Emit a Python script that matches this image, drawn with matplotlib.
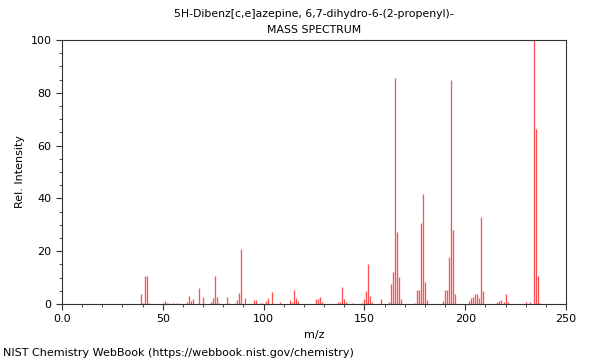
import numpy as np
import matplotlib
matplotlib.use("Agg")
import matplotlib.pyplot as plt
from matplotlib.ticker import MultipleLocator

title = "5H-Dibenz[c,e]azepine, 6,7-dihydro-6-(2-propenyl)-\nMASS SPECTRUM"

# m/z and relative intensity
mz = [39, 40, 41, 42, 43, 50, 51, 52, 53, 55, 57,
      62, 63, 64, 65, 68, 70, 74, 75, 76, 77, 78,
      82, 83, 86, 87, 88, 89, 91, 95, 96, 98, 99, 101, 102, 104, 108,
      113, 114, 115, 116, 117, 126, 127, 128, 129,
      137, 138, 139, 140, 141, 144, 149, 150, 151, 152, 153, 154, 158,
      162, 163, 164, 165, 166, 167, 168,
      175, 176, 177, 178, 179, 180, 181,
      189, 190, 191, 192, 193, 194, 195, 202,
      203, 204, 205, 206, 207, 208, 209,
      216, 217, 218, 219, 220, 221, 230, 232, 234, 235, 236, 237]
intensity = [3.8, 0.5, 10.5, 10.5, 0.5, 0.5, 1.1, 0.4, 0.3, 0.4, 0.4,
             0.6, 3.1, 1.1, 1.9, 6.1, 2.7, 0.6, 2.3, 10.6, 2.8, 0.5,
             2.5, 0.5, 0.5, 1.5, 4.2, 20.8, 2.3, 1.5, 1.5, 0.5, 0.5, 1.1, 2.3, 4.5, 0.8,
             1.5, 0.6, 5.3, 2.3, 1.1, 1.9, 1.9, 2.7, 0.8,
             0.8, 0.8, 6.4, 1.9, 0.8, 0.5, 0.5, 1.9, 5.0, 15.0, 3.0, 0.8, 2.0,
             0.6, 7.6, 12.0, 85.6, 27.4, 10.2, 1.9,
             0.5, 5.3, 5.3, 30.8, 41.7, 8.5, 1.6,
             1.0, 5.3, 5.3, 17.8, 84.8, 28.0, 3.7, 1.0,
             2.1, 2.5, 3.7, 3.9, 2.4, 33.1, 5.0,
             0.8, 1.3, 1.6, 0.6, 3.7, 0.8, 0.8, 0.8, 100.0, 66.4, 10.7, 0.5]

fig = plt.figure(figsize=(6, 3.6), dpi=100)
ax = fig.add_axes([62/600, 1 - 304/360, 504/600, 264/360])

ax.vlines(mz, 0, intensity, color="#ff3333", linewidth=0.95, alpha=0.85)

ax.set_xlim(0, 250)
ax.set_ylim(0, 100)
ax.xaxis.set_major_locator(MultipleLocator(50))
ax.xaxis.set_minor_locator(MultipleLocator(10))
ax.yaxis.set_major_locator(MultipleLocator(20))
ax.yaxis.set_minor_locator(MultipleLocator(5))
ax.set_xticks([0, 50, 100, 150, 200, 250])
ax.set_xticklabels(["0.0", "50", "100", "150", "200", "250"])
ax.tick_params(labelsize=8, length=4, color="#333333")
ax.tick_params(which="minor", length=2, color="#333333")
for s in ax.spines.values():
    s.set_color("#333333")
    s.set_linewidth(0.8)

ax.set_xlabel("m/z", fontsize=8)
ax.set_ylabel("Rel. Intensity", fontsize=8)
ax.set_title(title, fontsize=7.8, linespacing=1.75, pad=5)
fig.text(3/600, 1 - 356/360, "NIST Chemistry WebBook (https://webbook.nist.gov/chemistry)",
         fontsize=8, ha="left", va="baseline")

fig.savefig("out.png", dpi=100)
